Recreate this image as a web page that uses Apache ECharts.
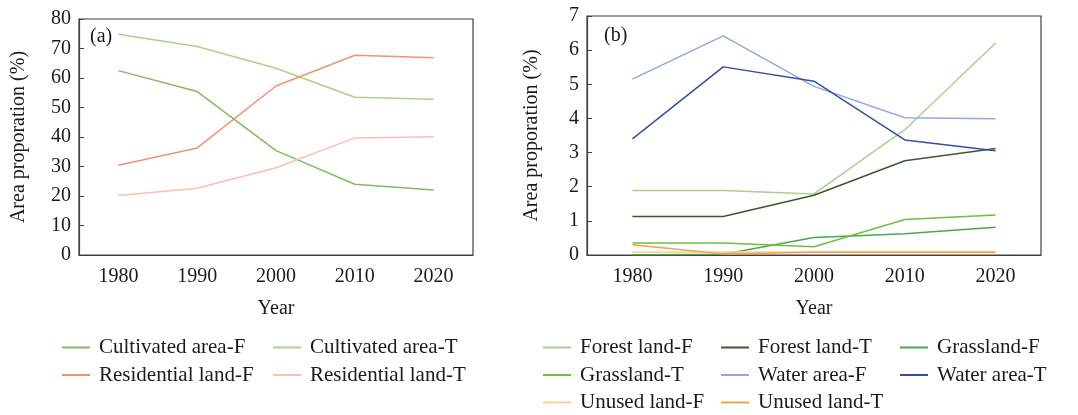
<!DOCTYPE html>
<html>
<head>
<meta charset="utf-8">
<script src="https://cdn.jsdelivr.net/npm/echarts@6/dist/echarts.min.js"></script>
<style>html,body{margin:0;padding:0;background:#fff}#c{width:1078px;height:415px}</style>
</head>
<body>
<div id="c"></div>
<script>
var years = ['1980', '1990', '2000', '2010', '2020'];
// Panel (a)
var cultivatedF = [62.5, 55.4, 35.4, 24.0, 22.0];
var cultivatedT = [74.8, 70.7, 63.3, 53.5, 52.8];
var residentialF = [30.4, 36.3, 57.3, 67.7, 66.9];
var residentialT = [20.2, 22.6, 29.6, 39.7, 40.1];
// Panel (b)
var forestF = [1.89, 1.89, 1.79, 3.67, 6.21];
var forestT = [1.13, 1.13, 1.75, 2.76, 3.12];
var grassF = [0.01, 0.02, 0.51, 0.62, 0.81];
var grassT = [0.35, 0.35, 0.24, 1.04, 1.17];
var waterF = [5.15, 6.42, 4.94, 4.02, 3.99];
var waterT = [3.40, 5.51, 5.09, 3.37, 3.05];
var unusedF = [0.09, 0.09, 0.09, 0.09, 0.09];
var unusedT = [0.30, 0.03, 0.08, 0.08, 0.08];
var yTicksA = {min: 0, max: 80, interval: 10};
var yTicksB = {min: 0, max: 7, interval: 1};

var font = '"Liberation Serif", "Times New Roman", serif';
var txt = '#1a1a1a';
var axisCol = '#404040';

function xAxis(gi) {
  return {
    type: 'category', gridIndex: gi, data: years, boundaryGap: true,
    name: 'Year', nameLocation: 'middle', nameGap: 44,
    nameTextStyle: {fontFamily: font, fontSize: 20, color: txt},
    axisLine: {lineStyle: {color: axisCol, width: 1.2}},
    axisTick: {inside: true, alignWithLabel: true, length: 5, lineStyle: {color: axisCol}},
    axisLabel: {fontFamily: font, fontSize: 20, color: txt, margin: 12},
    splitLine: {show: false}
  };
}
function yAxis(gi, t, gap) {
  return {
    type: 'value', gridIndex: gi, min: t.min, max: t.max, interval: t.interval,
    name: 'Area proporation (%)', nameLocation: 'middle', nameGap: gap,
    nameTextStyle: {fontFamily: font, fontSize: 20, color: txt},
    axisLine: {show: true, lineStyle: {color: axisCol, width: 1.2}},
    axisTick: {show: true, inside: true, length: 5, lineStyle: {color: axisCol}},
    axisLabel: {fontFamily: font, fontSize: 20, color: txt, margin: 8},
    splitLine: {show: false}
  };
}
function line(name, data, color, gi) {
  return {
    name: name, type: 'line', xAxisIndex: gi, yAxisIndex: gi, data: data,
    symbol: 'none', lineStyle: {color: color, width: 1.5}, itemStyle: {color: color},
    emphasis: {disabled: true}, animation: false
  };
}
function legend(names, left, top) {
  return {
    data: names, orient: 'vertical', left: left, top: top, height: 90, padding: 0,
    icon: 'rect', itemWidth: 28, itemHeight: 2, itemGap: 6.5,
    textStyle: {fontFamily: font, fontSize: 21, color: txt, lineHeight: 21, padding: [0, 0, 0, 4]},
    selectedMode: false
  };
}

var chart = echarts.init(document.getElementById('c'), null, {renderer: 'canvas'});
chart.setOption({
  backgroundColor: '#fff',
  animation: false,
  grid: [
    {left: 79, top: 19, width: 394, height: 236, show: true, borderColor: axisCol, borderWidth: 1.2},
    {left: 587, top: 16, width: 454, height: 239, show: true, borderColor: axisCol, borderWidth: 1.2}
  ],
  xAxis: [xAxis(0), xAxis(1)],
  yAxis: [yAxis(0, yTicksA, 50), yAxis(1, yTicksB, 45)],
  legend: [
    legend(['Cultivated area-F', 'Residential land-F'], 62, 337),
    legend(['Cultivated area-T', 'Residential land-T'], 273, 337),
    legend(['Forest land-F', 'Grassland-T', 'Unused land-F'], 543, 337),
    legend(['Forest land-T', 'Water area-F', 'Unused land-T'], 721, 337),
    legend(['Grassland-F', 'Water area-T'], 900, 337)
  ],
  graphic: [
    {type: 'text', left: 90, top: 27, style: {text: '(a)', font: '20px ' + font, fill: txt}},
    {type: 'text', left: 604, top: 26, style: {text: '(b)', font: '20px ' + font, fill: txt}}
  ],
  series: [
    line('Cultivated area-F', cultivatedF, '#80bd5c', 0),
    line('Cultivated area-T', cultivatedT, '#a9d38c', 0),
    line('Residential land-F', residentialF, '#f09371', 0),
    line('Residential land-T', residentialT, '#f9c1ac', 0),
    line('Forest land-F', forestF, '#a9d18e', 1),
    line('Forest land-T', forestT, '#3b5a2c', 1),
    line('Grassland-F', grassF, '#4aa84f', 1),
    line('Grassland-T', grassT, '#6fbf3f', 1),
    line('Water area-F', waterF, '#93a9db', 1),
    line('Water area-T', waterT, '#33509f', 1),
    line('Unused land-F', unusedF, '#fdd08a', 1),
    line('Unused land-T', unusedT, '#f5a045', 1)
  ]
});
</script>
</body>
</html>
